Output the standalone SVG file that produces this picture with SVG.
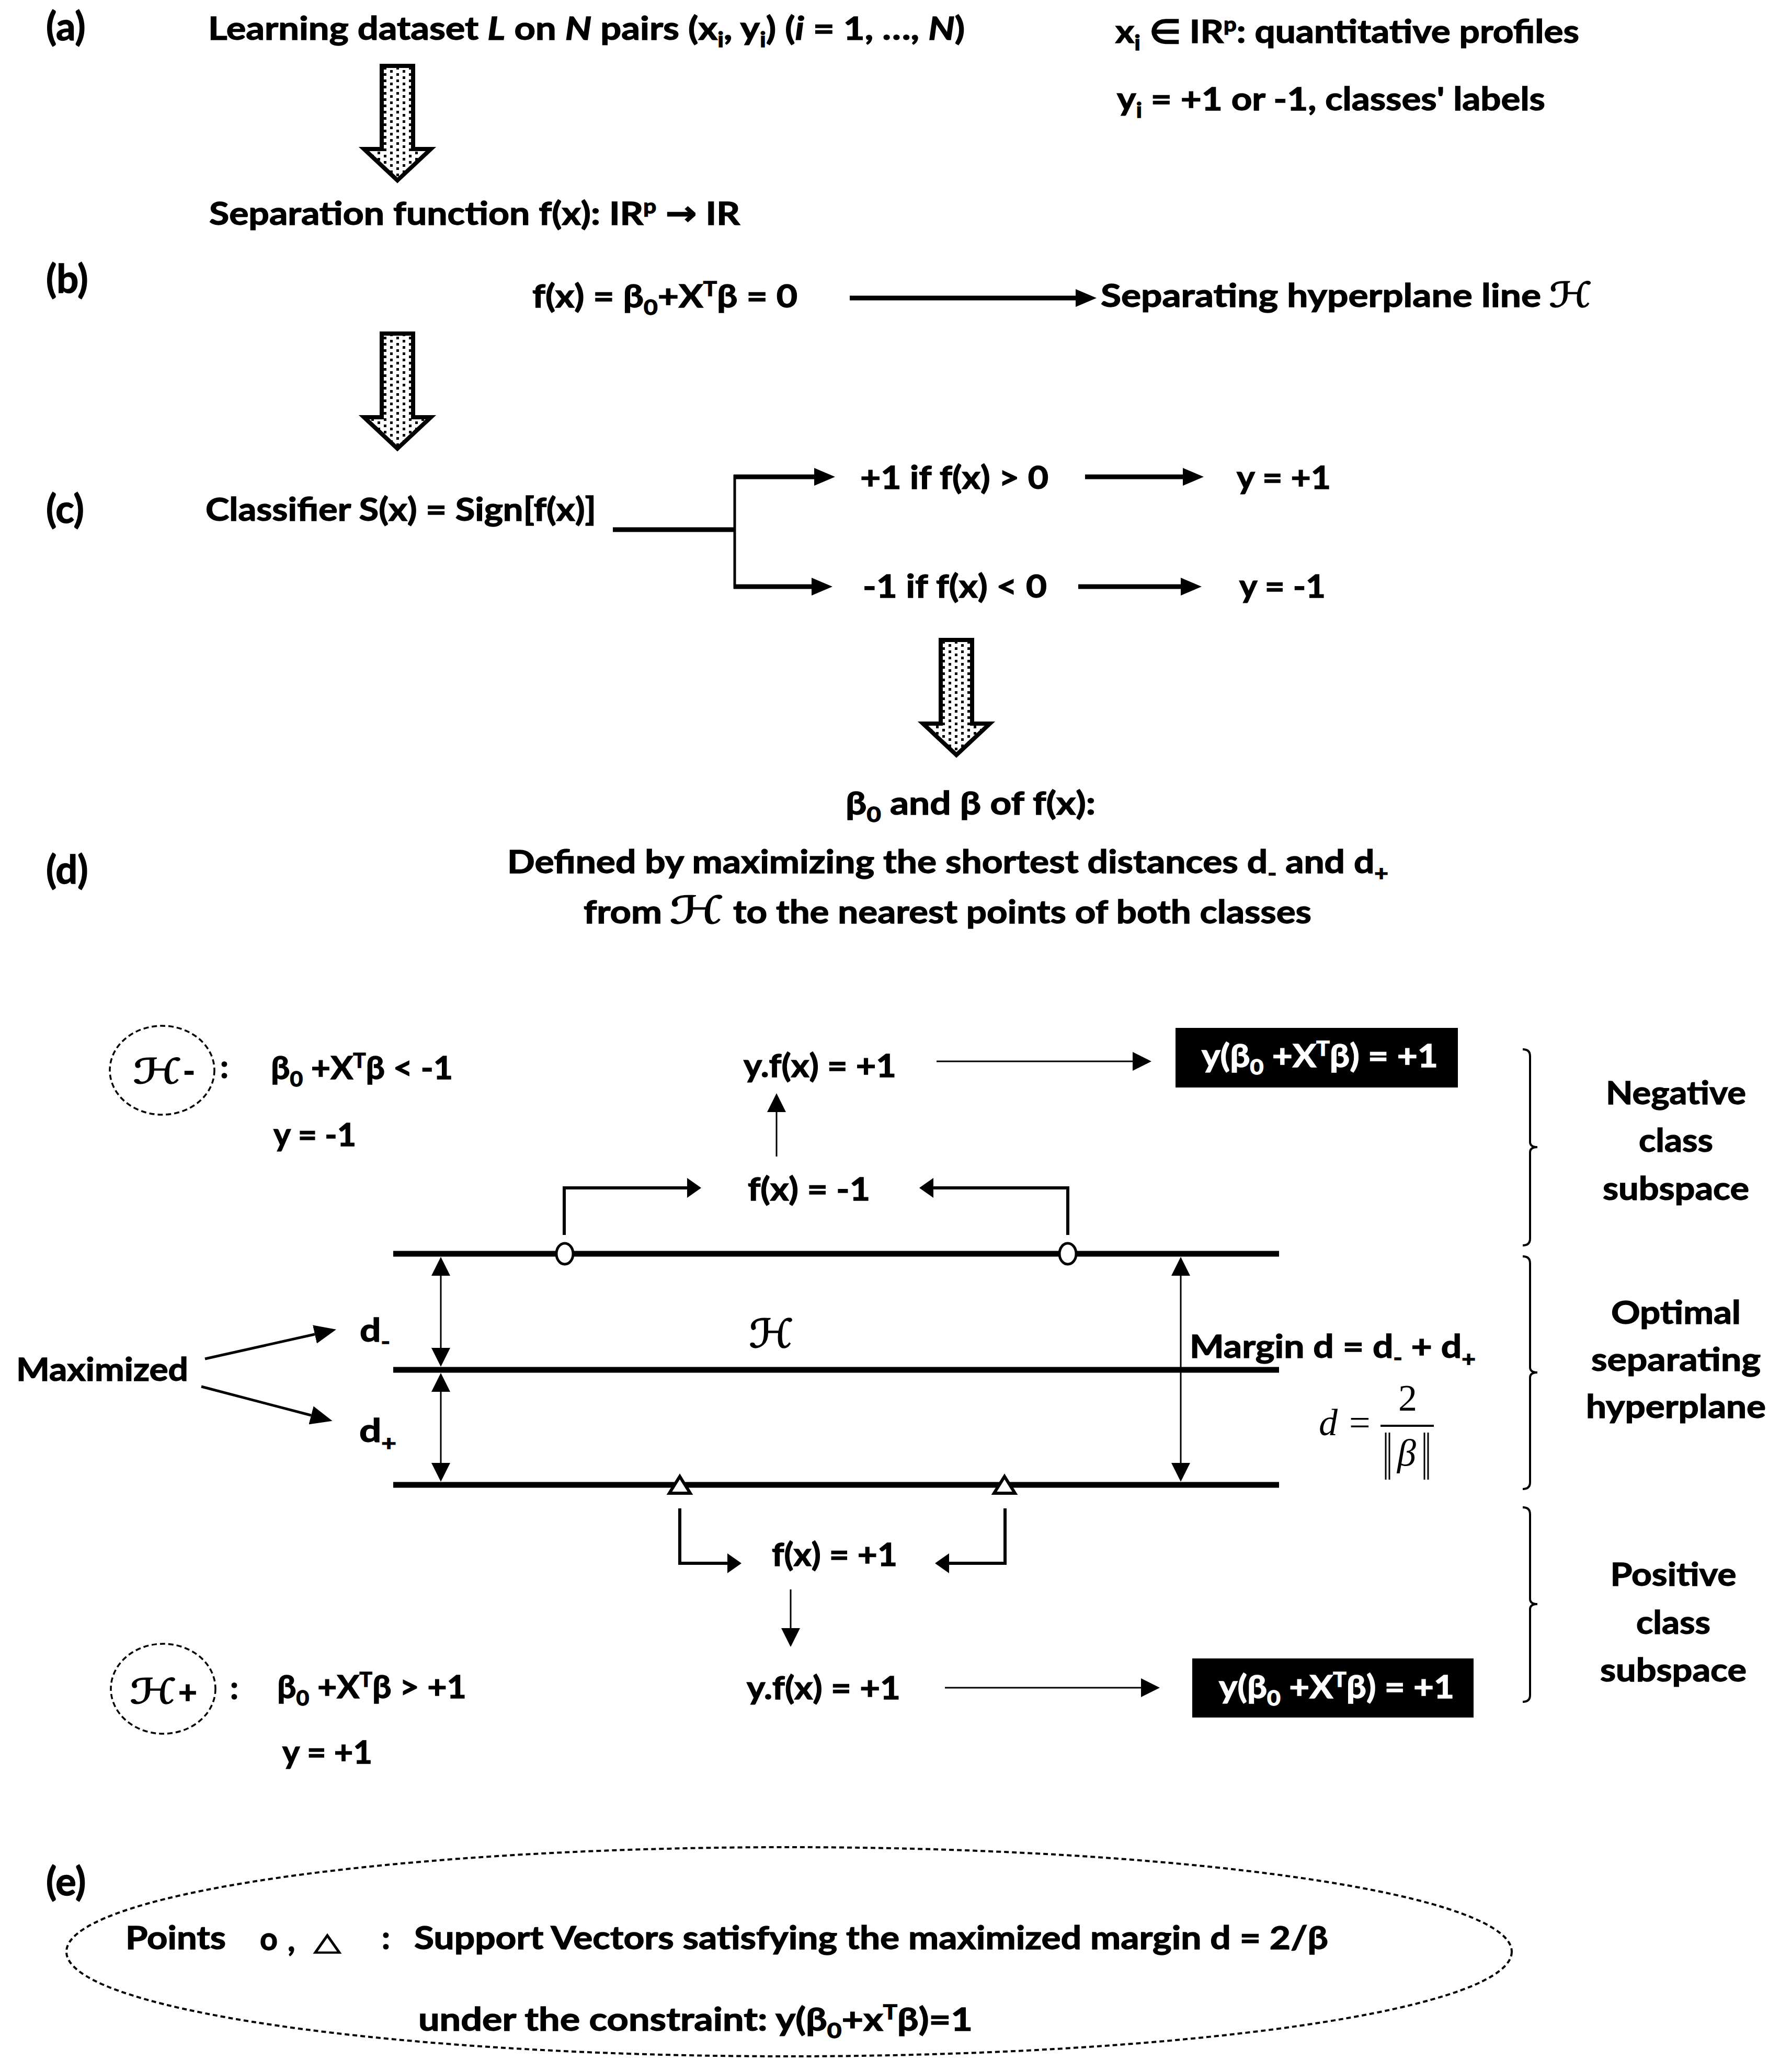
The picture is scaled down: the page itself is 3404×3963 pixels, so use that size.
<svg xmlns="http://www.w3.org/2000/svg" width="3404" height="3963" viewBox="0 0 3404 3963">
<style>
.t{font-family:Lato,"Liberation Sans",Arial,sans-serif;font-weight:bold;font-size:62px;fill:#000;stroke:#000;stroke-width:1.4}
.lbl{font-size:74px}
.w{fill:#fff;stroke:#fff}
.sub{font-size:41px}
.sup{font-size:39px}
.scr{font-family:"DejaVu Serif","DejaVu Sans",serif;font-weight:normal;fill:#000;stroke:#000;stroke-width:1.6}
.math{font-family:"Liberation Serif","Times New Roman",serif;font-weight:normal;font-size:72px;fill:#000}
.thick{stroke:#000;stroke-width:9;fill:none}
.thin{stroke:#000;stroke-width:3;fill:none}
.br{stroke:#000;stroke-width:6;fill:none}
.plane{stroke:#000;stroke-width:11}
.brace{stroke:#000;stroke-width:4;fill:none}
.dashc{stroke:#000;stroke-width:3.5;fill:none;stroke-dasharray:10 6}
.big{fill:url(#dots);stroke:#000;stroke-width:8;stroke-linejoin:miter}
.bar{stroke:#000;stroke-width:3}
</style>
<defs>
<pattern id="dots" width="24" height="12" patternUnits="userSpaceOnUse">
<rect width="24" height="12" fill="#fff"/>
<rect x="2" y="2" width="5" height="5" fill="#000"/>
<rect x="14" y="8" width="5" height="4" fill="#000"/>
<rect x="14" y="0" width="5" height="1" fill="#000"/>
</pattern>
<marker id="ah-thick" markerUnits="userSpaceOnUse" markerWidth="40" markerHeight="34" viewBox="0 0 40 34" refX="0" refY="17" orient="auto"><path d="M0,0 L40,17 L0,34 z" fill="#000"/></marker>
<marker id="ah-thin" markerUnits="userSpaceOnUse" markerWidth="36" markerHeight="36" viewBox="0 0 36 36" refX="0" refY="18" orient="auto-start-reverse"><path d="M0,0 L36,18 L0,36 z" fill="#000"/></marker>
<marker id="ah-br" markerUnits="userSpaceOnUse" markerWidth="27" markerHeight="38" viewBox="0 0 27 38" refX="0" refY="19" orient="auto"><path d="M0,0 L27,19 L0,38 z" fill="#000"/></marker>
<marker id="ah-max" markerUnits="userSpaceOnUse" markerWidth="42" markerHeight="36" viewBox="0 0 42 36" refX="0" refY="18" orient="auto"><path d="M0,0 L42,18 L0,36 z" fill="#000"/></marker>
</defs>
<rect width="3404" height="3963" fill="#fff"/>

<!-- section labels -->
<g id="labels">
<text class="t lbl" x="88" y="77">(a)</text>
<text class="t lbl" x="88" y="560">(b)</text>
<text class="t lbl" x="88" y="1000">(c)</text>
<text class="t lbl" x="88" y="1690">(d)</text>
<text class="t lbl" x="88" y="3625">(e)</text>
</g>

<!-- (a) -->
<g id="node-dataset"><text class="t" x="398" y="76" textLength="1447" lengthAdjust="spacingAndGlyphs">Learning dataset <tspan font-style="italic">L</tspan> on <tspan font-style="italic">N</tspan> pairs (x<tspan class="sub" dy="14">i</tspan><tspan dy="-14">, y</tspan><tspan class="sub" dy="14">i</tspan><tspan dy="-14">) (</tspan><tspan font-style="italic">i</tspan> = 1, …, <tspan font-style="italic">N</tspan>)</text></g>
<g id="node-xi"><text class="t" x="2133" y="82" textLength="887" lengthAdjust="spacingAndGlyphs">x<tspan class="sub" dy="14">i</tspan><tspan dy="-14"> ∈ IR</tspan><tspan class="sup" dy="-22">p</tspan><tspan dy="22">: quantitative profiles</tspan></text></g>
<g id="node-yi"><text class="t" x="2136" y="211" textLength="819" lengthAdjust="spacingAndGlyphs">y<tspan class="sub" dy="14">i</tspan><tspan dy="-14"> = +1 or -1, classes' labels</tspan></text></g>
<g id="node-sepfun"><text class="t" x="400" y="430" textLength="1015" lengthAdjust="spacingAndGlyphs">Separation function f(x): IR<tspan class="sup" dy="-22">p</tspan><tspan dy="22"> </tspan><tspan font-family="DejaVu Sans,sans-serif" font-size="64">→</tspan> IR</text></g>

<!-- (b) -->
<g id="node-fx"><text class="t" x="1018" y="588" textLength="507" lengthAdjust="spacingAndGlyphs">f(x) = β<tspan class="sub" dy="14">0</tspan><tspan dy="-14">+X</tspan><tspan class="sup" dy="-22">T</tspan><tspan dy="22">β = 0</tspan></text></g>
<g id="node-hyperline"><text class="t" x="2105" y="587" textLength="842" lengthAdjust="spacingAndGlyphs">Separating hyperplane line</text><text class="scr" x="2962" y="587" font-size="66" textLength="83" lengthAdjust="spacingAndGlyphs">ℋ</text></g>

<!-- (c) -->
<g id="node-classifier"><text class="t" x="393" y="996" textLength="747" lengthAdjust="spacingAndGlyphs">Classifier S(x) = Sign[f(x)]</text></g>
<g id="node-pos"><text class="t" x="1645" y="935" textLength="360" lengthAdjust="spacingAndGlyphs">+1 if f(x) &gt; 0</text></g>
<g id="node-ypos"><text class="t" x="2365" y="935" textLength="180" lengthAdjust="spacingAndGlyphs">y = +1</text></g>
<g id="node-neg"><text class="t" x="1650" y="1143" textLength="352" lengthAdjust="spacingAndGlyphs">-1 if f(x) &lt; 0</text></g>
<g id="node-yneg"><text class="t" x="2370" y="1143" textLength="165" lengthAdjust="spacingAndGlyphs">y = -1</text></g>

<!-- (d) header -->
<g id="node-beta"><text class="t" x="1617" y="1558" textLength="478" lengthAdjust="spacingAndGlyphs">β<tspan class="sub" dy="14">0</tspan><tspan dy="-14"> and β of f(x):</tspan></text></g>
<g id="node-defined"><text class="t" x="970" y="1670" textLength="1685" lengthAdjust="spacingAndGlyphs">Defined by maximizing the shortest distances d<tspan class="sub" dy="14">-</tspan><tspan dy="-14"> and d</tspan><tspan class="sub" dy="14">+</tspan></text>
<text class="t" x="1116" y="1766" textLength="150" lengthAdjust="spacingAndGlyphs">from</text>
<text class="scr" x="1280" y="1766" font-size="72" textLength="105" lengthAdjust="spacingAndGlyphs">ℋ</text>
<text class="t" x="1402" y="1766" textLength="1106" lengthAdjust="spacingAndGlyphs">to the nearest points of both classes</text></g>

<!-- dotted block arrows -->
<g id="block-arrows">
<path class="big" d="M730,126 H790 V285 H824 L760,345 L696,285 H730 Z"/>
<path class="big" d="M730,638 H790 V798 H824 L760,858 L696,798 H730 Z"/>
<path class="big" d="M1799,1224 H1859 V1384 H1893 L1829,1444 L1765,1384 H1799 Z"/>
</g>

<!-- (d) diagram: H- region -->
<g id="node-hminus">
<ellipse class="dashc" cx="310" cy="2047" rx="100" ry="85"/>
<text class="scr" x="254" y="2072" font-size="66" textLength="94" lengthAdjust="spacingAndGlyphs">ℋ</text>
<text class="t" x="350" y="2070">-</text>
<text class="t" x="421" y="2062">:</text>
</g>
<g id="node-hminus-ineq"><text class="t" x="518" y="2064" textLength="348" lengthAdjust="spacingAndGlyphs">β<tspan class="sub" dy="14">0</tspan><tspan dy="-14"> +X</tspan><tspan class="sup" dy="-22">T</tspan><tspan dy="22">β &lt; -1</tspan></text></g>
<g id="node-hminus-y"><text class="t" x="523" y="2192" textLength="158" lengthAdjust="spacingAndGlyphs">y = -1</text></g>
<g id="node-yf-top"><text class="t" x="1422" y="2060" textLength="292" lengthAdjust="spacingAndGlyphs">y.f(x) = +1</text></g>
<g id="node-box-top"><rect x="2248" y="1966" width="540" height="114" fill="#000"/><text class="t w" x="2298" y="2041" textLength="452" lengthAdjust="spacingAndGlyphs">y(β<tspan class="sub" dy="14">0</tspan><tspan dy="-14"> +X</tspan><tspan class="sup" dy="-22">T</tspan><tspan dy="22">β) = +1</tspan></text></g>
<g id="node-fx-m1"><text class="t" x="1430" y="2296" textLength="234" lengthAdjust="spacingAndGlyphs">f(x) = -1</text></g>

<!-- hyperplane lines -->
<g id="hyperplanes">
<line class="plane" x1="752" y1="2398" x2="2446" y2="2398"/>
<line class="plane" x1="752" y1="2620" x2="2446" y2="2620"/>
<line class="plane" x1="752" y1="2840" x2="2446" y2="2840"/>
</g>
<g id="node-hcenter"><text class="scr" x="1432" y="2577" font-size="75" textLength="86" lengthAdjust="spacingAndGlyphs" stroke-width="0.8">ℋ</text></g>

<!-- connectors -->
<g id="connectors">
<line class="thick" x1="1625" y1="570" x2="2057" y2="570" marker-end="url(#ah-thick)"/>
<line class="thick" x1="1172" y1="1013" x2="1407" y2="1013"/>
<line x1="1405" y1="908" x2="1405" y2="1126" stroke="#000" stroke-width="5"/>
<line class="thick" x1="1403" y1="912" x2="1557" y2="912" marker-end="url(#ah-thick)"/>
<line class="thick" x1="1403" y1="1122" x2="1552" y2="1122" marker-end="url(#ah-thick)"/>
<line class="thick" x1="2075" y1="912" x2="2262" y2="912" marker-end="url(#ah-thick)"/>
<line class="thick" x1="2062" y1="1122" x2="2258" y2="1122" marker-end="url(#ah-thick)"/>
<line class="thin" x1="1485" y1="2212" x2="1485" y2="2127" marker-end="url(#ah-thin)"/>
<line class="thin" x1="1791" y1="2030" x2="2166" y2="2030" marker-end="url(#ah-thin)"/>
<path class="br" d="M1079,2362 V2272 H1314" marker-end="url(#ah-br)"/>
<path class="br" d="M2042,2362 V2272 H1785" marker-end="url(#ah-br)"/>
<line class="thin" x1="843" y1="2440" x2="843" y2="2578" marker-start="url(#ah-thin)" marker-end="url(#ah-thin)"/>
<line class="thin" x1="843" y1="2662" x2="843" y2="2798" marker-start="url(#ah-thin)" marker-end="url(#ah-thin)"/>
<line class="thin" x1="2258" y1="2440" x2="2258" y2="2798" marker-start="url(#ah-thin)" marker-end="url(#ah-thin)"/>
<line x1="392" y1="2599" x2="602" y2="2552" stroke="#000" stroke-width="5" marker-end="url(#ah-max)"/>
<line x1="385" y1="2652" x2="595" y2="2707" stroke="#000" stroke-width="5" marker-end="url(#ah-max)"/>
<path class="br" d="M1300,2885 V2990 H1391" marker-end="url(#ah-br)"/>
<path class="br" d="M1922,2885 V2990 H1815" marker-end="url(#ah-br)"/>
<line class="thin" x1="1512" y1="3040" x2="1512" y2="3114" marker-end="url(#ah-thin)"/>
<line class="thin" x1="1807" y1="3228" x2="2182" y2="3228" marker-end="url(#ah-thin)"/>
</g>

<!-- support vectors -->
<g id="sv-circles">
<ellipse cx="1080" cy="2398" rx="16" ry="20" fill="#fff" stroke="#000" stroke-width="5"/>
<ellipse cx="2042" cy="2398" rx="16" ry="20" fill="#fff" stroke="#000" stroke-width="5"/>
</g>
<g id="sv-triangles">
<polygon points="1300,2824 1320,2856 1280,2856" fill="#fff" stroke="#000" stroke-width="6"/>
<polygon points="1921,2824 1941,2856 1901,2856" fill="#fff" stroke="#000" stroke-width="6"/>
</g>

<g id="node-dminus"><text class="t" x="688" y="2566" textLength="58" lengthAdjust="spacingAndGlyphs">d<tspan class="sub" dy="14">-</tspan></text></g>
<g id="node-dplus"><text class="t" x="687" y="2758" textLength="71" lengthAdjust="spacingAndGlyphs">d<tspan class="sub" dy="16">+</tspan></text></g>
<g id="node-maximized"><text class="t" x="31" y="2641" textLength="329" lengthAdjust="spacingAndGlyphs">Maximized</text></g>
<g id="node-margin"><text class="t" x="2275" y="2597" textLength="547" lengthAdjust="spacingAndGlyphs">Margin d = d<tspan class="sub" dy="14">-</tspan><tspan dy="-14"> + d</tspan><tspan class="sub" dy="16">+</tspan></text></g>
<g id="node-formula">
<text class="math" x="2522" y="2745" font-style="italic" font-size="76">d</text>
<text class="math" x="2580" y="2745" font-size="76">=</text>
<line x1="2640" y1="2727" x2="2742" y2="2727" stroke="#000" stroke-width="4"/>
<text class="math" x="2692" y="2698" text-anchor="middle" font-size="76">2</text>
<line class="bar" x1="2650" y1="2740" x2="2650" y2="2830"/>
<line class="bar" x1="2657" y1="2740" x2="2657" y2="2830"/>
<text class="math" x="2690" y="2803" font-style="italic" text-anchor="middle" font-size="76">β</text>
<line class="bar" x1="2724" y1="2740" x2="2724" y2="2830"/>
<line class="bar" x1="2731" y1="2740" x2="2731" y2="2830"/>
</g>

<g id="node-fx-p1"><text class="t" x="1476" y="2995" textLength="240" lengthAdjust="spacingAndGlyphs">f(x) = +1</text></g>
<g id="node-yf-bot"><text class="t" x="1428" y="3250" textLength="294" lengthAdjust="spacingAndGlyphs">y.f(x) = +1</text></g>
<g id="node-box-bot"><rect x="2280" y="3172" width="538" height="113" fill="#000"/><text class="t w" x="2331" y="3248" textLength="450" lengthAdjust="spacingAndGlyphs">y(β<tspan class="sub" dy="14">0</tspan><tspan dy="-14"> +X</tspan><tspan class="sup" dy="-22">T</tspan><tspan dy="22">β) = +1</tspan></text></g>

<g id="node-hplus">
<ellipse class="dashc" cx="312" cy="3230" rx="100" ry="86"/>
<text class="scr" x="248" y="3258" font-size="66" textLength="90" lengthAdjust="spacingAndGlyphs">ℋ</text>
<text class="t" x="341" y="3258">+</text>
<text class="t" x="440" y="3250">:</text>
</g>
<g id="node-hplus-ineq"><text class="t" x="530" y="3248" textLength="362" lengthAdjust="spacingAndGlyphs">β<tspan class="sub" dy="14">0</tspan><tspan dy="-14"> +X</tspan><tspan class="sup" dy="-22">T</tspan><tspan dy="22">β &gt; +1</tspan></text></g>
<g id="node-hplus-y"><text class="t" x="540" y="3373" textLength="172" lengthAdjust="spacingAndGlyphs">y = +1</text></g>

<!-- braces -->
<g id="braces">
<path class="brace" d="M2912,2007 Q2926,2007 2926,2020 V2184 Q2926,2194 2940,2194 Q2926,2194 2926,2204 V2369 Q2926,2382 2912,2382"/>
<path class="brace" d="M2912,2403 Q2926,2403 2926,2416 V2615 Q2926,2625 2940,2625 Q2926,2625 2926,2635 V2835 Q2926,2848 2912,2848"/>
<path class="brace" d="M2912,2883 Q2926,2883 2926,2896 V3058 Q2926,3068 2940,3068 Q2926,3068 2926,3078 V3242 Q2926,3255 2912,3255"/>
</g>
<g id="node-negative" text-anchor="middle">
<text class="t" x="3205" y="2112" textLength="268" lengthAdjust="spacingAndGlyphs">Negative</text>
<text class="t" x="3205" y="2203" textLength="142" lengthAdjust="spacingAndGlyphs">class</text>
<text class="t" x="3205" y="2295" textLength="280" lengthAdjust="spacingAndGlyphs">subspace</text>
</g>
<g id="node-optimal" text-anchor="middle">
<text class="t" x="3205" y="2532" textLength="248" lengthAdjust="spacingAndGlyphs">Optimal</text>
<text class="t" x="3205" y="2622" textLength="324" lengthAdjust="spacingAndGlyphs">separating</text>
<text class="t" x="3205" y="2712" textLength="344" lengthAdjust="spacingAndGlyphs">hyperplane</text>
</g>
<g id="node-positive" text-anchor="middle">
<text class="t" x="3200" y="3033" textLength="241" lengthAdjust="spacingAndGlyphs">Positive</text>
<text class="t" x="3200" y="3125" textLength="142" lengthAdjust="spacingAndGlyphs">class</text>
<text class="t" x="3200" y="3216" textLength="280" lengthAdjust="spacingAndGlyphs">subspace</text>
</g>

<!-- (e) -->
<g id="node-support">
<ellipse cx="1509" cy="3733" rx="1382" ry="200" fill="none" stroke="#000" stroke-width="4" stroke-dasharray="9 6"/>
<text class="t" x="240" y="3728" textLength="192" lengthAdjust="spacingAndGlyphs">Points</text>
<text class="t" x="497" y="3730" textLength="34" lengthAdjust="spacingAndGlyphs" font-size="66">o</text>
<text class="t" x="550" y="3732">,</text>
<text x="600" y="3730" font-family="DejaVu Sans,sans-serif" font-weight="bold" font-size="48" textLength="52" lengthAdjust="spacingAndGlyphs" stroke="#000" stroke-width="1.5">△</text>
<text class="t" x="730" y="3728">:</text>
<text class="t" x="792" y="3728" textLength="1748" lengthAdjust="spacingAndGlyphs">Support Vectors satisfying the maximized margin d = 2/β</text>
<text class="t" x="800" y="3884" textLength="1060" lengthAdjust="spacingAndGlyphs">under the constraint: y(β<tspan class="sub" dy="14">0</tspan><tspan dy="-14">+x</tspan><tspan class="sup" dy="-22">T</tspan><tspan dy="22">β)=1</tspan></text>
</g>
</svg>
